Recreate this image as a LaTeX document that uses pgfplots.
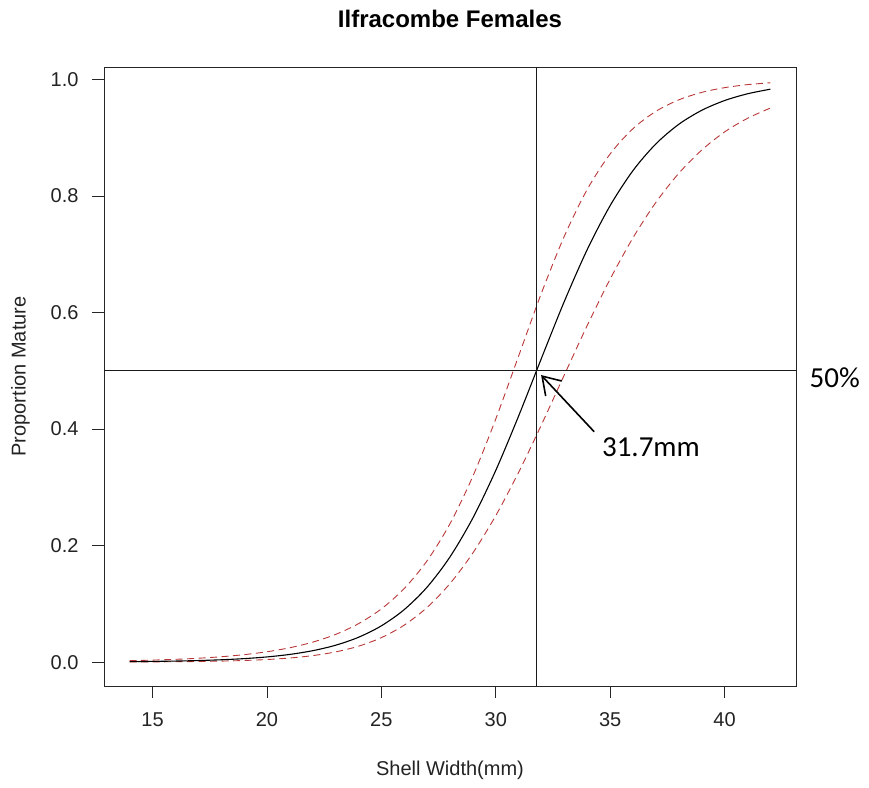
\documentclass[border=0pt]{standalone}
\usepackage{fontspec}
\setmainfont{Liberation Sans}
\newfontfamily\calibri{Carlito}
\usepackage{pgfplots}
\pgfplotsset{compat=1.18}
\usepackage{pgfplotstable}
\usetikzlibrary{arrows.meta}
\definecolor{rdash}{RGB}{185,55,55}
\definecolor{txt}{RGB}{35,35,35}

\pgfplotstableread{
x lower fit upper
14 0.000266 0.000814 0.00249
15 0.000426 0.001215 0.003454
16 0.000684 0.001812 0.004792
17 0.001094 0.0027 0.006646
18 0.001748 0.004022 0.009226
19 0.00279 0.005988 0.012805
20 0.004443 0.008907 0.017776
21 0.007055 0.01323 0.02468
22 0.01115 0.01961 0.03426
23 0.01753 0.02897 0.04752
24 0.0273 0.04261 0.06593
25 0.04202 0.06227 0.09135
26 0.06355 0.09014 0.12634
27 0.09392 0.12876 0.17404
28 0.1349 0.18064 0.23765
29 0.18743 0.24749 0.3192
30 0.25156 0.32915 0.41733
31 0.32592 0.42264 0.52565
32 0.40782 0.52199 0.6339
33 0.49343 0.61962 0.73151
34 0.57815 0.70847 0.81166
35 0.65767 0.78381 0.87249
36 0.72868 0.84398 0.91588
37 0.78938 0.88973 0.94556
38 0.83919 0.9233 0.96522
39 0.87898 0.94725 0.97797
40 0.91012 0.96401 0.98613
41 0.93344 0.97559 0.9913
42 0.95116 0.98351 0.99455
}\datatable

\begin{document}
\begin{tikzpicture}
\begin{axis}[name=ax, scale only axis, width=692pt, height=619pt,
  xmin=12.88, xmax=43.12, ymin=-0.041, ymax=1.0216,
  axis line style={line width=0.8pt, black!85},
  tick style={line width=0.8pt, black!85},
  tick align=outside, major tick length=12pt,
  xtick={15,20,25,30,35,40}, ytick={0,0.2,0.4,0.6,0.8,1},
  xtick pos=bottom, ytick pos=left,
  /pgf/number format/assume math mode=true,
  tick label style={font=\fontsize{20}{23}\selectfont, text=txt},
  x tick label style={yshift=-11pt},
  y tick label style={xshift=-10pt, /pgf/number format/fixed, /pgf/number format/fixed zerofill, /pgf/number format/precision=1},
  clip=false,
]
\addplot[draw=rdash, line width=0.9pt, dash pattern=on 7pt off 4.5pt, smooth] table[x=x,y=upper]{\datatable};
\addplot[draw=rdash, line width=0.9pt, dash pattern=on 7pt off 4.5pt, smooth] table[x=x,y=lower]{\datatable};
\addplot[black, line width=1.1pt, smooth] table[x=x,y=fit]{\datatable};
\draw[line width=0.8pt, black!90] (axis cs:31.76,-0.041) -- (axis cs:31.76,1.0216);
\draw[line width=0.8pt, black!90] (axis cs:12.88,0.5) -- (axis cs:43.12,0.5);
\draw[line width=1.6pt, -{Straight Barb[length=17pt,width=22pt]}] (axis cs:34.30,0.3955) -- (axis cs:31.98,0.4928);
\node[font=\calibri\fontsize{29}{34}\selectfont] at (axis cs:36.78,0.369) {31.7mm};
\node[font=\calibri\fontsize{29}{34}\selectfont] at (axis cs:44.81,0.488) {50\%};
\node[font=\bfseries\fontsize{24}{28}\selectfont] at (rel axis cs:0.5,1.0776) {Ilfracombe Females};
\node[font=\fontsize{20}{24}\selectfont, text=txt] at (rel axis cs:0.5,-0.1357) {Shell Width(mm)};
\node[font=\fontsize{20}{24}\selectfont, text=txt, rotate=90] at (rel axis cs:-0.1207,0.5) {Proportion Mature};
\end{axis}
\path ([shift={(-104pt,-101pt)}]ax.south west) rectangle ([shift={(73pt,67pt)}]ax.north east);
\end{tikzpicture}
\end{document}
